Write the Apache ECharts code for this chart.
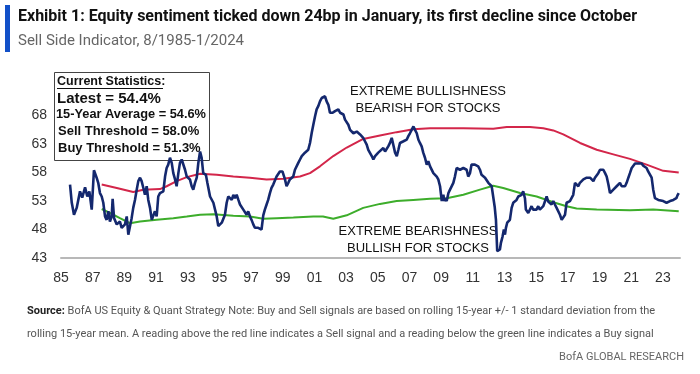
<!DOCTYPE html>
<html><head><meta charset="utf-8">
<script src="https://cdn.jsdelivr.net/npm/echarts@6/dist/echarts.min.js"></script>
<style>html,body{margin:0;padding:0;background:#fff}#c{width:700px;height:374px}</style>
</head><body><div id="c"></div>
<script>
// Sell Side Indicator (monthly readings) [decimal year, %]
const sellSideIndicator = [
[1985.57,55.9],[1985.68,52.7],[1985.82,50.6],[1985.99,51.8],[1986.20,54.7],[1986.34,53.6],[1986.52,55.4],[1986.66,53.8],[1986.79,54.7],[1986.94,51.5],[1987.04,51.2],[1987.08,58.4],[1987.25,57.1],[1987.35,56.2],[1987.46,54.4],[1987.57,53.8],[1987.67,52.7],[1987.78,50.3],[1987.88,49.7],[1987.99,51.2],[1988.09,49.4],[1988.20,50.3],[1988.26,53.4],[1988.35,50.0],[1988.52,48.9],[1988.72,49.4],[1988.83,48.3],[1989.04,48.9],[1989.15,50.3],[1989.25,47.1],[1989.36,48.6],[1989.46,50.0],[1989.56,51.8],[1989.67,53.2],[1989.78,55.0],[1989.88,56.5],[1989.99,57.1],[1990.09,56.5],[1990.20,55.3],[1990.30,54.1],[1990.41,55.6],[1990.51,53.2],[1990.62,51.8],[1990.73,49.7],[1990.83,49.4],[1990.93,51.2],[1991.04,50.3],[1991.14,53.8],[1991.25,54.4],[1991.46,54.7],[1991.57,57.3],[1991.67,58.8],[1991.77,59.4],[1991.88,60.6],[1991.99,59.7],[1992.09,57.9],[1992.20,56.8],[1992.30,55.6],[1992.41,57.9],[1992.51,59.7],[1992.62,60.3],[1992.72,60.6],[1992.83,58.5],[1992.94,57.3],[1993.04,57.6],[1993.14,56.8],[1993.25,55.6],[1993.35,55.0],[1993.46,56.2],[1993.57,57.1],[1993.67,59.7],[1993.78,61.7],[1993.88,60.6],[1993.98,57.9],[1994.15,57.6],[1994.24,56.2],[1994.41,53.8],[1994.62,52.7],[1994.83,50.3],[1994.93,48.6],[1995.04,48.3],[1995.15,49.2],[1995.25,48.9],[1995.35,50.6],[1995.46,52.7],[1995.56,53.8],[1995.67,53.5],[1995.78,53.2],[1995.88,54.1],[1995.98,53.5],[1996.09,54.1],[1996.20,53.2],[1996.30,52.4],[1996.51,51.5],[1996.72,50.6],[1996.82,51.2],[1996.93,50.3],[1997.03,49.7],[1997.14,48.9],[1997.24,48.3],[1997.45,48.3],[1997.66,48.0],[1997.77,50.5],[1997.87,51.5],[1997.98,52.4],[1998.08,53.2],[1998.19,54.4],[1998.29,55.3],[1998.40,55.9],[1998.50,55.9],[1998.61,57.3],[1998.71,57.3],[1998.82,58.2],[1998.98,58.2],[1999.14,56.8],[1999.24,55.6],[1999.35,56.2],[1999.45,56.8],[1999.56,56.8],[1999.66,57.3],[1999.77,58.5],[1999.87,58.8],[1999.98,59.7],[2000.09,60.3],[2000.20,60.9],[2000.30,60.8],[2000.40,61.5],[2000.51,61.8],[2000.61,62.0],[2000.72,63.2],[2000.83,65.0],[2000.93,66.4],[2001.04,67.9],[2001.14,69.1],[2001.25,69.7],[2001.35,70.5],[2001.46,71.1],[2001.56,70.8],[2001.67,71.4],[2001.77,70.5],[2001.88,69.9],[2001.98,68.5],[2002.15,68.5],[2002.30,68.8],[2002.51,69.1],[2002.62,68.5],[2002.83,68.2],[2002.93,67.3],[2003.14,66.4],[2003.25,65.5],[2003.46,64.9],[2003.67,65.2],[2003.88,64.7],[2004.08,64.1],[2004.19,63.5],[2004.30,62.9],[2004.40,62.0],[2004.51,61.7],[2004.62,60.9],[2004.72,60.3],[2004.83,60.9],[2004.93,61.2],[2005.03,61.5],[2005.14,61.8],[2005.35,62.3],[2005.46,61.7],[2005.56,62.0],[2005.66,62.6],[2005.77,63.2],[2005.88,64.1],[2005.98,63.8],[2006.09,61.5],[2006.20,60.9],[2006.30,62.0],[2006.40,63.2],[2006.51,62.9],[2006.62,63.5],[2006.72,63.2],[2006.83,63.8],[2006.93,64.4],[2007.03,64.9],[2007.14,65.5],[2007.25,66.1],[2007.35,65.5],[2007.46,64.9],[2007.56,63.8],[2007.66,63.2],[2007.77,62.6],[2007.87,61.5],[2007.98,60.6],[2008.09,59.4],[2008.19,60.0],[2008.30,59.1],[2008.40,58.8],[2008.51,57.9],[2008.62,58.2],[2008.72,57.3],[2008.82,56.8],[2008.93,55.6],[2009.04,53.0],[2009.14,54.1],[2009.20,53.0],[2009.25,53.5],[2009.35,53.0],[2009.46,54.4],[2009.56,55.0],[2009.67,55.0],[2009.77,56.2],[2009.87,57.3],[2009.98,58.8],[2010.19,58.5],[2010.40,58.8],[2010.50,58.8],[2010.61,58.5],[2010.71,57.3],[2010.82,57.9],[2010.92,59.4],[2011.13,59.4],[2011.34,59.1],[2011.45,58.5],[2011.55,57.6],[2011.66,57.3],[2011.77,57.1],[2011.87,56.8],[2011.98,56.2],[2012.08,55.9],[2012.19,55.6],[2012.29,55.5],[2012.38,52.0],[2012.46,49.7],[2012.54,44.2],[2012.60,44.0],[2012.71,44.5],[2012.77,45.6],[2012.88,46.8],[2012.96,48.0],[2013.03,47.1],[2013.09,48.3],[2013.17,49.2],[2013.26,48.9],[2013.34,49.7],[2013.45,51.8],[2013.55,52.7],[2013.66,52.9],[2013.76,53.2],[2013.87,53.8],[2013.98,54.1],[2014.08,54.1],[2014.18,54.7],[2014.29,53.5],[2014.35,51.5],[2014.50,50.9],[2014.60,51.2],[2014.71,52.1],[2014.81,51.5],[2014.92,51.2],[2015.02,51.5],[2015.13,52.1],[2015.23,51.5],[2015.34,51.8],[2015.45,52.1],[2015.55,52.4],[2015.66,53.8],[2015.76,52.9],[2015.87,52.6],[2015.97,52.4],[2016.08,53.0],[2016.18,52.4],[2016.29,51.8],[2016.39,51.5],[2016.50,50.6],[2016.61,49.7],[2016.71,50.0],[2016.82,50.6],[2016.92,52.7],[2017.03,52.7],[2017.13,53.0],[2017.24,53.2],[2017.34,54.1],[2017.45,56.2],[2017.55,56.5],[2017.66,55.6],[2017.76,56.2],[2017.87,56.2],[2017.98,56.8],[2018.19,57.1],[2018.40,57.1],[2018.61,56.5],[2018.71,57.1],[2018.82,57.1],[2018.92,57.9],[2019.03,58.5],[2019.14,58.2],[2019.24,58.5],[2019.35,57.9],[2019.45,57.3],[2019.56,55.9],[2019.66,54.4],[2019.77,54.7],[2019.87,55.0],[2019.98,55.3],[2020.08,55.6],[2020.19,55.9],[2020.29,56.2],[2020.40,55.6],[2020.50,55.9],[2020.61,55.6],[2020.71,56.2],[2020.82,57.1],[2020.92,57.9],[2021.03,58.8],[2021.13,59.1],[2021.24,59.6],[2021.34,59.7],[2021.45,59.6],[2021.55,59.4],[2021.66,59.6],[2021.76,59.2],[2021.86,59.1],[2021.97,58.8],[2022.07,58.2],[2022.18,57.9],[2022.29,57.1],[2022.39,55.0],[2022.50,53.5],[2022.60,53.2],[2022.71,53.2],[2022.81,53.0],[2023.02,53.0],[2023.23,52.7],[2023.34,52.7],[2023.45,53.0],[2023.55,53.0],[2023.66,53.2],[2023.76,53.2],[2023.85,53.5],[2023.92,54.0],[2024.00,54.4]
];
// Sell threshold (rolling 15-yr mean + 1 sd)
const sellThreshold = [
[1987.57,55.9],[1988.52,55.3],[1989.56,54.6],[1990.20,55.0],[1991.25,55.1],[1991.67,55.6],[1992.30,56.5],[1992.94,57.2],[1993.78,57.8],[1994.83,57.6],[1995.88,57.3],[1996.93,57.1],[1997.98,56.8],[1999.03,56.9],[2000.09,57.3],[2000.72,57.9],[2001.35,59.1],[2002.19,60.9],[2003.04,62.4],[2004.08,63.9],[2005.14,64.5],[2006.19,65.1],[2007.24,65.6],[2008.30,65.8],[2010.40,65.8],[2012.29,65.7],[2013.14,66.0],[2014.61,66.0],[2015.45,65.8],[2016.08,65.4],[2016.71,64.7],[2017.77,63.2],[2018.82,62.0],[2019.87,61.2],[2020.92,60.4],[2021.97,59.4],[2023.02,58.3],[2024.00,58.0]
];
// Buy threshold (rolling 15-yr mean - 1 sd)
const buyThreshold = [
[1987.57,51.6],[1988.09,50.9],[1988.72,50.0],[1989.36,49.1],[1989.99,49.4],[1991.04,49.7],[1992.09,50.0],[1992.94,50.3],[1993.78,50.6],[1994.62,50.7],[1995.88,50.4],[1996.93,50.3],[1997.77,49.9],[1998.62,50.0],[1999.67,50.1],[2000.93,50.3],[2001.54,50.3],[2002.19,49.9],[2003.04,50.5],[2004.08,51.8],[2005.14,52.5],[2006.19,53.0],[2007.24,53.2],[2008.30,53.4],[2009.35,53.5],[2010.40,54.1],[2011.45,55.0],[2012.29,55.7],[2012.92,55.3],[2013.98,54.4],[2015.03,53.8],[2016.08,52.8],[2016.92,52.1],[2017.55,51.7],[2018.82,51.5],[2020.92,51.4],[2022.39,51.5],[2024.00,51.2]
];
const yTicks = [43, 48, 53, 58, 63, 68];
const baseYear = 1985;
const statsLines = ["Current Statistics:", "Latest = 54.4%", "15-Year Average = 54.6%", "Sell Threshold = 58.0%", "Buy Threshold = 51.3%"];

const shift = arr => arr.map(p => [p[0] - baseYear, p[1]]);
const chart = echarts.init(document.getElementById('c'), null, {renderer: 'canvas'});
const narrow = '"Roboto", "Liberation Sans", sans-serif';
const arial = '"Liberation Sans", Arial, sans-serif';
chart.setOption({
  animation: false,
  backgroundColor: '#fff',
  grid: {left: 61, right: 20, top: 90, bottom: 116},
  xAxis: {
    type: 'value', min: 0, max: 39.08, interval: 2,
    axisLine: {show: true, lineStyle: {color: '#b8b8b8', width: 2}},
    axisTick: {show: false}, splitLine: {show: false},
    axisLabel: {color: '#333', fontSize: 14, fontFamily: arial, margin: 13, showMaxLabel: false,
      formatter: v => String((baseYear + v) % 100).padStart(2, '0')}
  },
  yAxis: {
    type: 'value', min: yTicks[0], max: 72.5, interval: 5,
    axisLine: {show: false}, axisTick: {show: false}, splitLine: {show: false},
    axisLabel: {color: '#333', fontSize: 14, fontFamily: arial, margin: 14, showMaxLabel: false}
  },
  series: [
    {type: 'line', data: shift(sellThreshold), symbol: 'none', lineStyle: {color: '#d3264a', width: 2}, z: 2},
    {type: 'line', data: shift(buyThreshold), symbol: 'none', lineStyle: {color: '#3dad2b', width: 2}, z: 2},
    {type: 'line', data: shift(sellSideIndicator), symbol: 'none', lineStyle: {color: '#14286e', width: 2.6}, z: 3}
  ],
  graphic: [
    {type: 'rect', shape: {x: 5, y: 5, width: 5, height: 47}, style: {fill: '#1250c8'}},
    {type: 'text', style: {x: 18, y: 17, text: 'Exhibit 1: Equity sentiment ticked down 24bp in January, its first decline since October', font: 'bold 16px ' + narrow, fill: '#111', textVerticalAlign: 'middle'}},
    {type: 'text', style: {x: 18, y: 41, text: 'Sell Side Indicator, 8/1985-1/2024', font: '15px ' + narrow, fill: '#666', textVerticalAlign: 'middle'}},
    {type: 'rect', z: -1, shape: {x: 54.5, y: 72.5, width: 155, height: 88}, style: {fill: 'none', stroke: '#444', lineWidth: 1}},
    {type: 'text', style: {x: 57, y: 82, text: statsLines[0], font: 'bold 12.5px ' + arial, fill: '#111', textVerticalAlign: 'middle'}},
    {type: 'line', shape: {x1: 57, y1: 88.5, x2: 163, y2: 88.5}, style: {stroke: '#111', lineWidth: 1}},
    {type: 'text', style: {x: 57, y: 99, text: statsLines[1], font: 'bold 15px ' + arial, fill: '#111', textVerticalAlign: 'middle'}},
    {type: 'text', style: {x: 56, y: 114, text: statsLines[2], font: 'bold 12.8px ' + arial, fill: '#111', textVerticalAlign: 'middle'}},
    {type: 'text', style: {x: 58, y: 131, text: statsLines[3], font: 'bold 13px ' + arial, fill: '#111', textVerticalAlign: 'middle'}},
    {type: 'text', style: {x: 58, y: 148, text: statsLines[4], font: 'bold 13px ' + arial, fill: '#111', textVerticalAlign: 'middle'}},
    {type: 'text', style: {x: 428, y: 91, text: 'EXTREME BULLISHNESS', font: '13px ' + arial, fill: '#111', textAlign: 'center', textVerticalAlign: 'middle'}},
    {type: 'text', style: {x: 428, y: 108, text: 'BEARISH FOR STOCKS', font: '13px ' + arial, fill: '#111', textAlign: 'center', textVerticalAlign: 'middle'}},
    {type: 'text', style: {x: 418, y: 231, text: 'EXTREME BEARISHNESS', font: '13px ' + arial, fill: '#111', textAlign: 'center', textVerticalAlign: 'middle'}},
    {type: 'text', style: {x: 418, y: 248, text: 'BULLISH FOR STOCKS', font: '13px ' + arial, fill: '#111', textAlign: 'center', textVerticalAlign: 'middle'}},
    {type: 'text', style: {x: 27, y: 311, text: '{b|Source:} BofA US Equity & Quant Strategy Note: Buy and Sell signals are based on rolling 15-year +/- 1 standard deviation from the', font: '11px ' + narrow, fill: '#555', textVerticalAlign: 'middle', rich: {b: {font: 'bold 11px ' + narrow, fill: '#222'}}}},
    {type: 'text', style: {x: 27, y: 334, text: 'rolling 15-year mean. A reading above the red line indicates a Sell signal and a reading below the green line indicates a Buy signal', font: '11px ' + narrow, fill: '#555', textVerticalAlign: 'middle'}},
    {type: 'text', style: {x: 684, y: 357, text: 'BofA GLOBAL RESEARCH', font: '11px ' + narrow, fill: '#666', textAlign: 'right', textVerticalAlign: 'middle'}}
  ]
});
</script></body></html>
